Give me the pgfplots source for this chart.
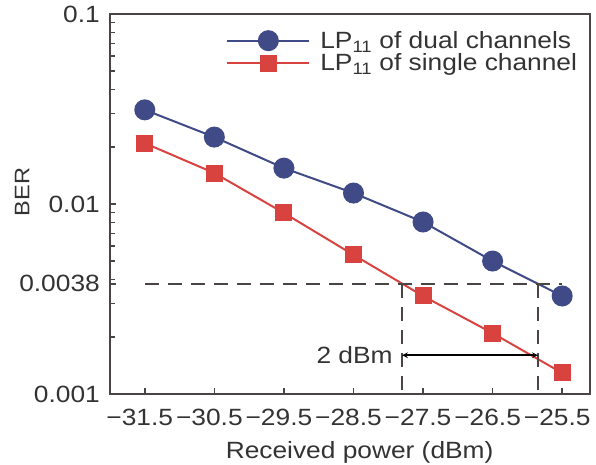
\documentclass[border=0pt]{standalone}
\usepackage{pgfplots}
\pgfplotsset{compat=1.18}
\usepackage{fontspec}
\setmainfont{Liberation Sans}[FakeStretch=1.12]
\definecolor{dualblue}{HTML}{3F4A86}
\definecolor{singred}{HTML}{D9433F}
\definecolor{axgray}{HTML}{4A4444}
\definecolor{txtgray}{HTML}{333333}
\begin{document}
\begin{tikzpicture}
\begin{axis}[
  scale only axis, width=480pt, height=380pt,
  xmin=-32, xmax=-25.1,
  ymode=log, ymin=0.001, ymax=0.1,
  xtick={-31.5,-30.5,-29.5,-28.5,-27.5,-26.5,-25.5},
  xticklabels={−31.5,−30.5,−29.5,−28.5,−27.5,−26.5,−25.5},
  ytick={0.001,0.0038,0.01,0.1},
  yticklabels={0.001,0.0038,0.01,0.1},
  extra y ticks={0.002,0.003,0.004,0.005,0.006,0.007,0.008,0.009,0.02,0.03,0.04,0.05,0.06,0.07,0.08,0.09},
  extra y tick labels={},
  extra y tick style={major tick length=5pt, ytick pos=left, tick align=inside},
  tick align=inside, xtick pos=bottom, ytick pos=left,
  major tick length=6pt,
  axis line style={axgray, line width=2pt},
  every tick/.style={axgray, line width=1.5pt},
  /pgf/number format/assume math mode=true,
  tick label style={font=\fontsize{23.5}{26}\selectfont, text=txtgray},
  xticklabel style={inner sep=0pt, yshift=-15pt, xshift=-5pt},
  yticklabel style={inner sep=0pt, xshift=-10pt},
  xlabel={Received power (dBm)}, ylabel={BER},
  label style={font=\fontsize{23.5}{26}\selectfont, text=txtgray},
  x label style={at={(axis description cs:0.52,0)}, anchor=base, yshift=-64pt},
  y label style={at={(axis description cs:-0.183,0.532)}, anchor=center, rotate=0, font=\fontsize{21}{24}\selectfont},
  legend style={draw=none, fill=none, inner sep=0pt, at={(axis description cs:0.242,0.96)}, anchor=north west,
    font=\fontsize{23.5}{27}\selectfont, text=txtgray, row sep=0pt,
    /tikz/every odd column/.style={column sep=8pt}},
  legend cell align=left,
  legend image code/.code={\draw[mark repeat=2,mark phase=2] plot coordinates {(0pt,0pt) (41pt,0pt) (82pt,0pt)};},
]
\addplot[dualblue, line width=2pt, mark=*, mark size=9.5pt, mark options={fill=dualblue, draw=dualblue}]
coordinates {(-31.5,0.0313) (-30.5,0.0225) (-29.5,0.01545) (-28.5,0.01142) (-27.5,0.00804) (-26.5,0.00501) (-25.5,0.00328)};
\addlegendentry{LP\textsubscript{11} of dual channels}
\addplot[singred, line width=2pt, mark=square*, mark size=7.5pt, mark options={fill=singred, draw=singred}]
coordinates {(-31.5,0.0209) (-30.5,0.01455) (-29.5,0.00897) (-28.5,0.0054) (-27.5,0.00328) (-26.5,0.00209) (-25.5,0.00129)};
\addlegendentry{LP\textsubscript{11} of single channel}
\addplot[forget plot, axgray, line width=2pt, dash pattern=on 14pt off 9pt] coordinates {(-31.5,0.0038) (-25.5,0.0038)};
\addplot[forget plot, axgray, line width=2pt, dash pattern=on 14pt off 9pt] coordinates {(-27.8,0.0038) (-27.8,0.001)};
\addplot[forget plot, axgray, line width=2pt, dash pattern=on 14pt off 9pt] coordinates {(-25.85,0.0038) (-25.85,0.001)};
\addplot[forget plot, black, line width=1.5pt, <->, >=stealth] coordinates {(-27.8,0.0016) (-25.85,0.0016)};
\node[anchor=east, font=\fontsize{23.5}{26}\selectfont, text=txtgray] at (axis cs:-27.8,0.0016) [xshift=-6pt] {2 dBm};
\end{axis}
\pgfresetboundingbox
\path ([shift={(-110pt,-71pt)}]current axis.south west) rectangle ([shift={(6pt,14pt)}]current axis.north east);
\end{tikzpicture}
\end{document}
